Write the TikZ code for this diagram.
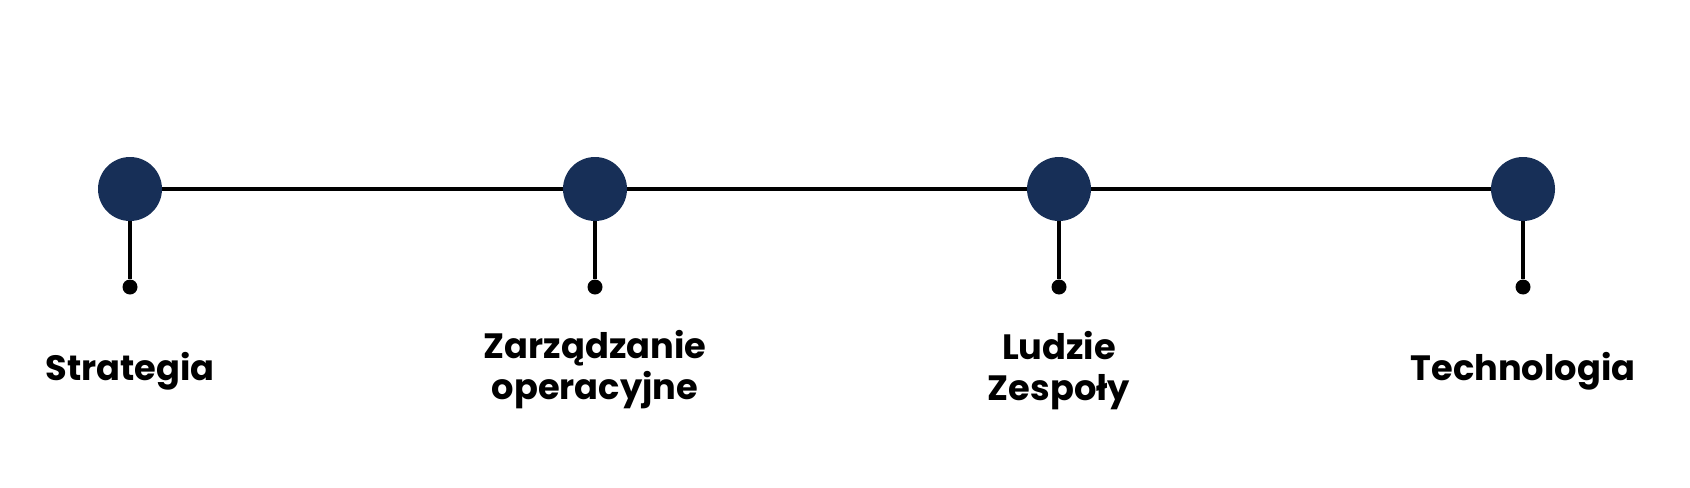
\documentclass[tikz,border=0pt]{standalone}
\usepackage{fontspec}
\setmainfont{Poppins}
\usepackage{xcolor}
\definecolor{navy}{RGB}{23,47,87}

\begin{document}
\begin{tikzpicture}[x=0.5pt,y=-0.5pt,
    stage/.style={circle,fill=navy,inner sep=0pt,minimum size=32pt},
    pin/.style={circle,fill=black,inner sep=0pt,minimum size=7.5pt},
    conn/.style={line width=2pt,black},
    caption/.style={anchor=base,align=center,inner sep=0pt,
        font=\fontsize{17.6pt}{20.5pt}\selectfont\bfseries}]
    \useasboundingbox (0,0) rectangle (1690,487);

    % Stages
    \node[stage] (s1) at (130,189) {};
    \node[stage] (s2) at (595,189) {};
    \node[stage] (s3) at (1059,189) {};
    \node[stage] (s4) at (1523,189) {};

    % Pins
    \node[pin] (d1) at (130,287) {};
    \node[pin] (d2) at (595,287) {};
    \node[pin] (d3) at (1059,287) {};
    \node[pin] (d4) at (1523,287) {};

    % Timeline and stems
    \draw[conn] (s1) -- (s2);
    \draw[conn] (s2) -- (s3);
    \draw[conn] (s3) -- (s4);
    \draw[conn] (s1) -- (d1);
    \draw[conn] (s2) -- (d2);
    \draw[conn] (s3) -- (d3);
    \draw[conn] (s4) -- (d4);

    % Labels (base = last line)
    \node[caption] (l1) at (130,380) {Strategia};
    \node[caption] (l2) at (595,399) {Zarządzanie\\operacyjne};
    \node[caption] (l3) at (1059,400) {Ludzie\\Zespoły};
    \node[caption] (l4) at (1523,380) {Technologia};
\end{tikzpicture}
\end{document}
